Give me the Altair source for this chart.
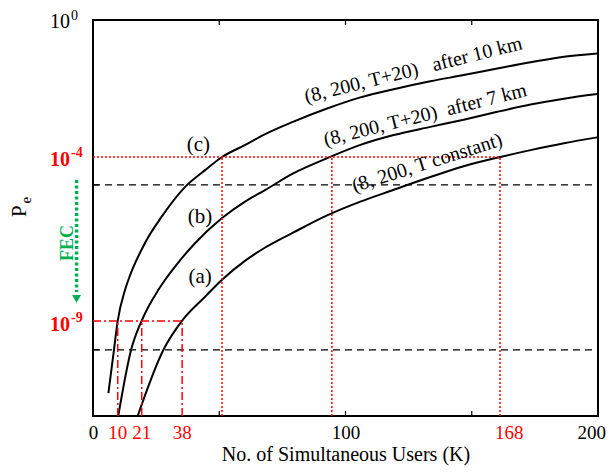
import altair as alt
import pandas as pd

# ---------------- data ----------------
# curve (c): (8, 200, T+20) after 10 km
users_c = [6.1, 8.3, 9.8, 12.7, 14.0, 20.6, 27.2, 36.5, 44.4, 51.1, 60.3, 68.2, 79.4, 92.7,
           105.9, 119.1, 133.6, 146.8, 160.1, 173.3, 186.5, 199.7]
log_pe_c = [-11.20, -9.88, -8.99, -8.05, -7.75, -6.62, -5.82, -4.91, -4.40, -4.00, -3.63, -3.30,
            -2.92, -2.52, -2.18, -1.93, -1.69, -1.50, -1.30, -1.11, -0.94, -0.84]
# curve (b): (8, 200, T+20) after 7 km
users_b = [10.0, 15.1, 19.3, 25.9, 28.5, 32.5, 40.4, 51.0, 60.2, 68.1, 79.3, 92.6, 105.9,
           119.1, 133.6, 146.8, 160.1, 173.3, 186.5, 199.7]
log_pe_b = [-11.9, -9.88, -8.99, -8.05, -7.75, -7.34, -6.63, -5.87, -5.36, -5.01, -4.50, -4.04,
            -3.63, -3.33, -3.08, -2.86, -2.62, -2.40, -2.22, -2.08]
# curve (a): (8, 200, T constant)
users_a = [17.7, 27.9, 35.3, 44.4, 51.0, 60.3, 68.2, 79.4, 92.7, 105.9, 119.1, 133.6, 146.8,
           161.2, 173.3, 186.5, 199.7]
log_pe_a = [-11.9, -9.88, -8.99, -8.26, -7.75, -7.16, -6.76, -6.30, -5.78, -5.36, -5.00, -4.61,
            -4.28, -4.00, -3.79, -3.58, -3.40]

dashed_levels = [-4.85, -9.88]          # black dashed reference lines (log10 Pe)
req_hi = -4                             # Pe = 1e-4 (without FEC)
req_hi_users = [51.1, 94.6, 161.2]
req_lo = -9                             # Pe = 1e-9 (with FEC)
req_lo_users = [9.8, 19.3, 35.3]
red_tick_text = ["10", "21", "38", "168"]
red_tick_pos = [9.8, 19.3, 35.3, 164.9]
black_tick_values = [0, 100]
end_tick_text = "200"
end_tick_pos = 200
minor_ticks = [50, 100, 150]

curve_tags = ["(c)", "(b)", "(a)"]
curve_tag_x = [41.7, 42.4, 42.4]
curve_tag_y = [-3.63, -5.82, -7.65]
curve_names = ["(8, 200, T+20)\u00a0\u00a0 after 10 km", "(8, 200, T+20)\u00a0 after 7 km",
               "(8, 200, T constant)"]
curve_name_x = [126.9, 131.6, 132.4]
curve_name_y = [-1.35, -2.72, -4.18]
curve_name_angle = [346, 346, 342.5]

ytick_base_y = [0.12, -4.09, -9.12]
ytick_sup = ["0", "-4", "-9"]

FONT = "Liberation Serif, Times New Roman, serif"
RED = "#ff0000"
GREEN = "#00b050"
Y_BOTTOM = -11.9
Y_TOP = 0.18

# ---------------- tables ----------------
rows = []
for name, xs, ys in [("c", users_c, log_pe_c), ("b", users_b, log_pe_b), ("a", users_a, log_pe_a)]:
    for u, e in zip(xs, ys):
        rows.append({"curve": name, "users": u, "pe": 10 ** e})
curves = pd.DataFrame(rows)

X = alt.Scale(domain=[0, 200], nice=False, zero=False)
Y = alt.Scale(type="log", domain=[10 ** Y_BOTTOM, 10 ** Y_TOP], nice=False)

x_axis = alt.Axis(values=black_tick_values, ticks=False, domain=False, grid=False, labelFont=FONT,
                  labelFontSize=19, labelColor="black", labelPadding=7, labelFlush=False,
                  title="No. of Simultaneous Users (K)", titleFont=FONT, titleFontSize=20,
                  titleFontWeight="normal", titleColor="black", titlePadding=2)


def xe(f):
    return alt.X(f, type="quantitative", scale=X, axis=x_axis)


def ye(f):
    return alt.Y(f, type="quantitative", scale=Y, axis=None)


lines = alt.Chart(curves).mark_line(color="black", strokeWidth=2, interpolate="monotone").encode(
    x=xe("users"), y=ye("pe"), detail="curve:N")

dash_df = pd.DataFrame({"users": [0] * len(dashed_levels), "x1": [200] * len(dashed_levels),
                        "pe": [10 ** e for e in dashed_levels]})
dashed = alt.Chart(dash_df).mark_rule(color="black", strokeWidth=1.2, strokeDash=[7, 5]).encode(
    x=xe("users"), x2="x1", y=ye("pe"))
left_ticks = alt.Chart(dash_df).mark_rule(color="black", strokeWidth=1.2).encode(
    x=alt.value(0), x2=alt.value(6), y=ye("pe"))

hi_h = pd.DataFrame({"users": [0], "x1": [max(req_hi_users)], "pe": [10 ** req_hi]})
hi_v = pd.DataFrame({"users": req_hi_users, "lo": [10 ** Y_BOTTOM] * 3, "pe": [10 ** req_hi] * 3})
lo_h = pd.DataFrame({"users": [0], "x1": [max(req_lo_users)], "pe": [10 ** req_lo]})
lo_v = pd.DataFrame({"users": req_lo_users, "lo": [10 ** Y_BOTTOM] * 3, "pe": [10 ** req_lo] * 3})

dot = dict(color=RED, strokeWidth=1.5, strokeDash=[2, 2])
dashdot = dict(color=RED, strokeWidth=1.5, strokeDash=[8, 3, 2, 3])
r1 = alt.Chart(hi_h).mark_rule(**dot).encode(x=xe("users"), x2="x1", y=ye("pe"))
r2 = alt.Chart(hi_v).mark_rule(**dot).encode(x=xe("users"), y=ye("lo"), y2="pe")
r3 = alt.Chart(lo_h).mark_rule(**dashdot).encode(x=xe("users"), x2="x1", y=ye("pe"))
r4 = alt.Chart(lo_v).mark_rule(**dashdot).encode(x=xe("users"), y=ye("lo"), y2="pe")

tick_df = pd.DataFrame({"users": minor_ticks})
top_ticks = alt.Chart(tick_df).mark_rule(color="black", strokeWidth=1.2).encode(
    x=xe("users"), y=alt.value(0), y2=alt.value(5))
bot_ticks = alt.Chart(tick_df).mark_rule(color="black", strokeWidth=1.2).encode(
    x=xe("users"), y=alt.value(396), y2=alt.value(391))

red_lab_df = pd.DataFrame({"users": red_tick_pos, "t": red_tick_text,
                           "pe": [10 ** Y_BOTTOM] * len(red_tick_pos)})
red_labels = alt.Chart(red_lab_df).mark_text(font=FONT, fontSize=19, color=RED, baseline="middle",
                                             dy=17).encode(x=xe("users"), y=ye("pe"), text="t:N")
end_label = alt.Chart(pd.DataFrame({"users": [end_tick_pos], "t": [end_tick_text],
                                    "pe": [10 ** Y_BOTTOM]})).mark_text(
    font=FONT, fontSize=19, color="black", baseline="middle", align="right", dx=8, dy=17).encode(
    x=xe("users"), y=ye("pe"), text="t:N")

tag_df = pd.DataFrame({"users": curve_tag_x, "pe": [10 ** e for e in curve_tag_y], "t": curve_tags})
tags = alt.Chart(tag_df).mark_text(font=FONT, fontSize=21, color="black").encode(
    x=xe("users"), y=ye("pe"), text="t:N")

name_layers = []
for t, ux, ey, ang in zip(curve_names, curve_name_x, curve_name_y, curve_name_angle):
    d = pd.DataFrame({"users": [ux], "pe": [10 ** ey], "t": [t]})
    name_layers.append(alt.Chart(d).mark_text(font=FONT, fontSize=20, color="black", angle=ang)
                       .encode(x=xe("users"), y=ye("pe"), text="t:N"))

# y tick labels (10 with superscript exponent)
ylab_df = pd.DataFrame({"users": [-9.1] * 3, "pe": [10 ** e for e in ytick_base_y],
                        "sup": ytick_sup, "base": ["10"] * 3})
ybase_black = alt.Chart(ylab_df.iloc[:1]).mark_text(font=FONT, fontSize=20, align="right",
                                                    baseline="middle", color="black").encode(
    x=xe("users"), y=ye("pe"), text="base:N")
ysup_black = alt.Chart(ylab_df.iloc[:1]).mark_text(font=FONT, fontSize=14, align="left",
                                                   baseline="middle", color="black", dx=1, dy=-6).encode(
    x=xe("users"), y=ye("pe"), text="sup:N")
ybase_red = alt.Chart(ylab_df.iloc[1:]).mark_text(font=FONT, fontSize=20, fontWeight="bold",
                                                  align="right", baseline="middle", color=RED).encode(
    x=xe("users"), y=ye("pe"), text="base:N")
ysup_red = alt.Chart(ylab_df.iloc[1:]).mark_text(font=FONT, fontSize=14, fontWeight="bold",
                                                 align="left", baseline="middle", color=RED, dx=1,
                                                 dy=-7).encode(
    x=xe("users"), y=ye("pe"), text="sup:N")

# y title P_e (rotated; dx runs upward, dy runs rightward)
ttl_df = pd.DataFrame({"users": [-28.9], "pe": [10 ** -5.65]})
ttl_p = alt.Chart(ttl_df).mark_text(font=FONT, fontSize=21, angle=270, baseline="middle",
                                    color="black", text="P").encode(x=xe("users"), y=ye("pe"))
ttl_e = alt.Chart(ttl_df).mark_text(font=FONT, fontSize=15, angle=270, baseline="middle",
                                    color="black", text="e", dx=11, dy=6).encode(
    x=xe("users"), y=ye("pe"))

# FEC arrow
fec_line_df = pd.DataFrame({"users": [-6.5], "p0": [10 ** -4.70], "p1": [10 ** -8.12]})
fec_line = alt.Chart(fec_line_df).mark_rule(color=GREEN, strokeWidth=3.5, strokeDash=[3, 2.5]).encode(
    x=xe("users"), y=ye("p0"), y2="p1")
fec_head = alt.Chart(pd.DataFrame({"users": [-6.5], "pe": [10 ** -8.33]})).mark_point(
    shape="triangle-down", filled=True, color=GREEN, size=80, opacity=1).encode(
    x=xe("users"), y=ye("pe"))
fec_text = alt.Chart(pd.DataFrame({"users": [-9.9], "pe": [10 ** -6.62]})).mark_text(
    font=FONT, fontSize=18, fontWeight="bold", color=GREEN, angle=270, baseline="middle",
    text="FEC").encode(x=xe("users"), y=ye("pe"))

chart = alt.layer(
    lines, dashed, left_ticks, r1, r2, r3, r4, top_ticks, bot_ticks, red_labels, end_label, tags,
    *name_layers, ybase_black, ysup_black, ybase_red, ysup_red, ttl_p, ttl_e,
    fec_line, fec_head, fec_text,
).properties(
    width=505, height=396,
    autosize=alt.AutoSizeParams(type="none"),
    padding={"left": 85, "top": 12, "right": 8, "bottom": 51},
    background="white",
).configure_view(stroke="black", strokeWidth=2)

chart.save("out.html", embed_options={"renderer": "svg", "actions": False})
